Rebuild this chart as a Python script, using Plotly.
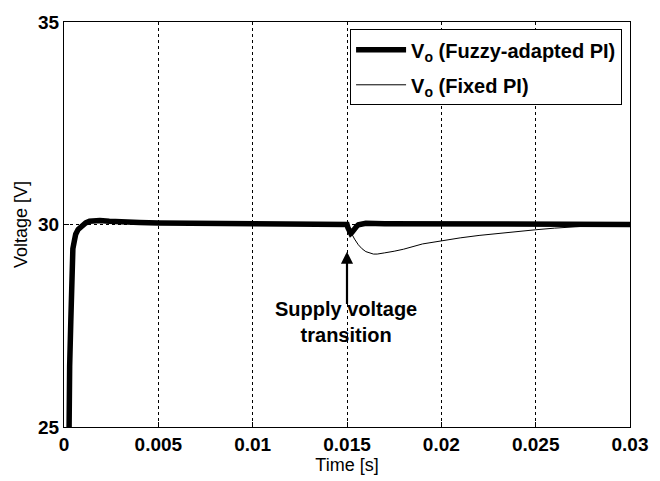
import plotly.graph_objects as go

# Fuzzy-adapted PI output voltage
t_fuzzy = [0.00025, 0.00026, 0.00030, 0.00036, 0.00042, 0.00047, 0.00055, 0.00062, 0.00075, 0.00094,
           0.00115, 0.00135, 0.0016, 0.0019, 0.0024, 0.003, 0.004, 0.005, 0.008, 0.012,
           0.0149, 0.0150, 0.01505, 0.0151, 0.01515, 0.0152, 0.01525, 0.0153, 0.0154, 0.0155,
           0.0156, 0.0158, 0.016, 0.017, 0.02, 0.025, 0.03]
v_fuzzy = [24.0, 25.0, 26.5, 27.6, 28.7, 29.4, 29.6, 29.76, 29.88, 29.97,
           30.04, 30.08, 30.1, 30.1, 30.08, 30.06, 30.05, 30.04, 30.03, 30.02,
           30.02, 30.0, 29.92, 29.85, 29.8, 29.78, 29.8, 29.84, 29.9, 29.95,
           29.99, 30.02, 30.03, 30.02, 30.01, 30.0, 30.0]

# Fixed PI output voltage
t_fixed = [0.00025, 0.00026, 0.00030, 0.00036, 0.00042, 0.00047, 0.00055, 0.00062, 0.00075, 0.00094,
           0.00115, 0.00135, 0.0016, 0.0019, 0.0024, 0.003, 0.004, 0.005, 0.008, 0.012,
           0.015, 0.0151, 0.0152, 0.0154, 0.0156, 0.0158, 0.016, 0.0162, 0.0164, 0.0166,
           0.0168, 0.017, 0.0175, 0.018, 0.019, 0.02, 0.021, 0.022, 0.023, 0.024,
           0.025, 0.026, 0.027, 0.028, 0.03]
v_fixed = [24.0, 25.0, 26.5, 27.6, 28.7, 29.4, 29.6, 29.76, 29.88, 29.97,
           30.04, 30.08, 30.1, 30.1, 30.08, 30.06, 30.05, 30.04, 30.03, 30.02,
           30.0, 29.9, 29.8, 29.64, 29.5, 29.4, 29.33, 29.29, 29.27, 29.27,
           29.28, 29.3, 29.34, 29.39, 29.52, 29.6, 29.67, 29.73, 29.78, 29.83,
           29.87, 29.91, 29.94, 29.97, 29.99]

x_ticks = [0, 0.005, 0.01, 0.015, 0.02, 0.025, 0.03]
x_ticklabels = ["0", "0.005", "0.01", "0.015", "0.02", "0.025", "0.03"]
y_ticks = [25, 30, 35]

FONT = "Liberation Sans, Arial, sans-serif"

fig = go.Figure()
fig.add_trace(go.Scatter(x=t_fixed, y=v_fixed, mode="lines",
                         line=dict(color="black", width=1),
                         name="<b>V<sub>o</sub> (Fixed PI)</b>", legendrank=2,
                         legendgroup="b"))
fig.add_trace(go.Scatter(x=t_fuzzy, y=v_fuzzy, mode="lines",
                         line=dict(color="black", width=5.5),
                         name="<b>V<sub>o</sub> (Fuzzy-adapted PI)</b>", legendrank=1,
                         legendgroup="a"))

fig.add_annotation(x=0.015, y=29.33, ax=0.015, ay=28.0, xref="x", yref="y",
                   axref="x", ayref="y", showarrow=True, arrowhead=2, arrowsize=1.1,
                   arrowwidth=2.2, arrowcolor="black", text="")
fig.add_annotation(x=0.01495, y=27.6, xref="x", yref="y", showarrow=False,
                   text="<b>Supply voltage<br>transition</b>", yanchor="middle",
                   font=dict(family=FONT, size=20, color="black"), align="center")

axis_common = dict(showline=True, linecolor="black", linewidth=1, mirror=True,
                   ticks="inside", ticklen=5, tickcolor="black",
                   showgrid=True, gridcolor="black", gridwidth=1, griddash="3px,3px",
                   zeroline=False, ticklabeloverflow="allow",
                   tickfont=dict(family=FONT, size=19, color="black", weight="bold"))

fig.update_xaxes(range=[0, 0.03], tickvals=x_ticks, ticktext=x_ticklabels,
                 title=dict(text="Time [s]", font=dict(family=FONT, size=18, color="black"),
                            standoff=2),
                 **axis_common)
fig.update_yaxes(range=[25, 35], tickvals=y_ticks,
                 title=dict(text="Voltage [V]", font=dict(family=FONT, size=18, color="black"),
                            standoff=5),
                 **axis_common)

fig.update_layout(width=660, height=481, margin=dict(l=64, r=19, t=17, b=52),
                  plot_bgcolor="white", paper_bgcolor="white",
                  font=dict(family=FONT, color="black"),
                  showlegend=True,
                  legend=dict(x=0.986, y=0.982, xanchor="right", yanchor="top",
                              bgcolor="white", bordercolor="black", borderwidth=1,
                              font=dict(family=FONT, size=20, color="black"),
                              tracegroupgap=6, itemwidth=50))

fig.write_html("out.html")
